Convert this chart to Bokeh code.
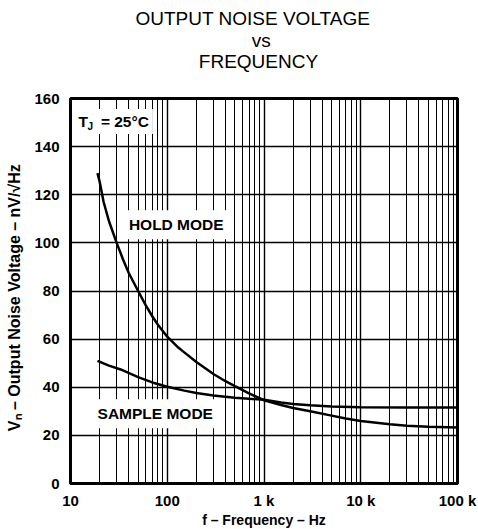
from bokeh.plotting import figure
from bokeh.models import Range1d, FixedTicker, Label, Title
from bokeh.embed import file_html
from bokeh.resources import INLINE

# Data
hold_f = [19, 20, 22, 25, 30, 35, 40, 50, 60, 70, 80, 100, 130, 150, 200, 300, 400, 500, 700,
          1000, 1500, 2000, 3000, 5000, 7000, 10000, 20000, 30000, 50000, 100000]
hold_v = [129, 125.5, 117, 109, 100, 93, 87.5, 80, 74, 69.5, 66, 61, 56.5, 54.5, 50.5, 45.5, 42.5,
          40.5, 37.5, 34.6, 32.6, 31.4, 30, 28.2, 27, 26, 24.6, 24, 23.6, 23.3]
sample_f = [19, 25, 33, 50, 70, 100, 150, 200, 300, 500, 700, 1000, 1500, 2000, 3000, 5000,
            10000, 30000, 100000]
sample_v = [51, 49, 47.4, 44.2, 42, 40.2, 38.6, 37.6, 36.6, 35.6, 35.2, 34.8, 33.7, 33.0, 32.5,
            32.0, 31.7, 31.6, 31.6]

x_ticks = [10, 100, 1000, 10000, 100000]
x_tick_labels = ["10", "100", "1 k", "10 k", "100 k"]
y_ticks = [0, 20, 40, 60, 80, 100, 120, 140, 160]

title_lines = ["OUTPUT NOISE VOLTAGE", "vs", "FREQUENCY"]
y_label = "V\u2099 \u2013 Output Noise Voltage \u2013 nV/\u221aHz"
x_label = "f \u2013 Frequency \u2013 Hz"

FONT = "Liberation Sans"
NB = "\u00a0"

p = figure(frame_width=387, frame_height=385, x_axis_type="log",
           x_range=Range1d(10, 100000), y_range=Range1d(0, 160),
           output_backend="svg", toolbar_location=None,
           min_border_left=70, min_border_right=21, min_border_top=97, min_border_bottom=20)

p.background_fill_color = "white"
p.border_fill_color = "white"
p.outline_line_color = "black"
p.outline_line_width = 3

minor = [m * d for d in x_ticks[:-1] for m in range(2, 10)]
p.xaxis.ticker = FixedTicker(ticks=x_ticks, minor_ticks=minor)
p.xaxis.major_label_overrides = {t: l for t, l in zip(x_ticks, x_tick_labels)}
p.yaxis.ticker = FixedTicker(ticks=y_ticks)

for ax in (p.xaxis, p.yaxis):
    ax.axis_line_color = None
    ax.major_tick_line_color = None
    ax.minor_tick_line_color = None
    ax.major_label_text_font = FONT
    ax.major_label_text_font_style = "bold"
    ax.major_label_text_font_size = "15px"
    ax.major_label_text_color = "black"
    ax.axis_label_text_font = FONT
    ax.axis_label_text_font_style = "bold"
    ax.axis_label_text_color = "black"

p.xaxis.axis_label_text_font_size = "14px"
p.yaxis.axis_label_text_font_size = "16px"
p.xaxis.major_label_standoff = 2
p.yaxis.major_label_standoff = 5
p.xaxis.axis_label = x_label
p.xaxis.axis_label_standoff = 0
p.yaxis.axis_label = y_label + NB * 3
p.yaxis.axis_label_standoff = 8

p.xgrid.grid_line_color = "black"
p.xgrid.grid_line_width = 1.4
p.xgrid.minor_grid_line_color = "black"
p.xgrid.minor_grid_line_width = 1
p.ygrid.grid_line_color = "black"
p.ygrid.grid_line_width = 1.4

p.line(hold_f, hold_v, line_color="black", line_width=2.5)
p.line(sample_f, sample_v, line_color="black", line_width=2.5)

def lab(x, y, text, size="15.5px", pad=4, bg="white", **kw):
    l = Label(x=x, y=y, text=text, text_font=FONT, text_font_style="bold",
              text_font_size=size, text_color="black", text_baseline="middle",
              background_fill_color=bg, padding=pad, **kw)
    p.add_layout(l)

lab(34.8, 107.5, "HOLD MODE", pad=6)
lab(16.5, 29, "SAMPLE MODE", pad=6)
lab(11.0, 150.4, "T" + NB * 3 + "= 25\u00b0C", size="15.5px", pad=4)
lab(11.0, 150.4, "J", size="10px", pad=0, bg=None, x_offset=13, y_offset=-5)

# multi-line title: lines padded so that each is centred in the block
title_text = "\n".join([title_lines[0], NB * 22 + title_lines[1], NB * 12 + title_lines[2], NB])
p.add_layout(Title(text=title_text, align="left", offset=65, text_font=FONT,
                   text_font_style="normal", text_font_size="19px", text_color="black",
                   text_line_height=1.01, standoff=11), "above")

open("out.html", "w").write(file_html(p, INLINE))
